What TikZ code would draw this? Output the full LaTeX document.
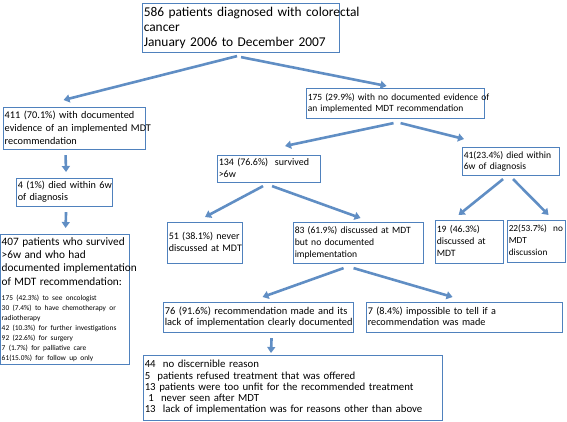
\documentclass[tikz,border=0pt]{standalone}
\usepackage{fontspec}
\setmainfont{Carlito}
\usetikzlibrary{arrows.meta}
\definecolor{boxblue}{RGB}{79,129,189}
\definecolor{arrowblue}{RGB}{96,142,196}
\newcommand{\boxlines}[1]{\begin{tabular}{@{}l@{}}#1\end{tabular}}
\tikzset{
  stage/.style={draw=boxblue, line width=1.1pt, anchor=north west, align=left, inner xsep=1.2pt, inner ysep=1.5pt, font=\fontsize{10}{11.5}\selectfont},
  bigstage/.style={stage, font=\fontsize{13.4}{15}\selectfont},
  flow/.style={-{Triangle[length=6pt,width=8pt]}, line width=2.6pt, arrowblue}
}
\begin{document}
\begin{tikzpicture}[x=1pt,y=-1pt]
  \useasboundingbox (0,0) rectangle (567,421);
  \node[bigstage, text width=194.6pt, minimum height=49pt] (top) at (142,3) {\boxlines{586 patients diagnosed with colorectal\\cancer\\January 2006 to December 2007}};
  \node[stage, text width=139.6pt, minimum height=41pt, font=\fontsize{10.3}{13}\selectfont] (n411) at (3,107) {\boxlines{411 (70.1\%) with documented\\evidence of an implemented MDT\\recommendation}};
  \node[stage, text width=175.6pt, minimum height=30pt, font=\fontsize{9.5}{11.5}\selectfont] (n175) at (306,88) {\boxlines{175 (29.9\%) with no documented evidence of\\an implemented MDT recommendation}};
  \node[stage, text width=93.6pt, minimum height=28pt, font=\fontsize{10.2}{12}\selectfont] (n4) at (16,178) {\boxlines{4 (1\%) died within 6w\\of diagnosis}};
  \node[stage, text width=126.6pt, minimum height=127pt] (n407) at (0,234) {{\fontsize{11.3}{13.3}\selectfont\boxlines{407 patients who survived\\>6w and who had\\documented implementation\\of MDT recommendation:}\par}\vspace{3pt}{\fontsize{7.4}{10}\selectfont\boxlines{175 (42.3\%) to see oncologist\\30 (7.4\%) to have chemotherapy or\\radiotherapy\\42 (10.3\%) for further investigations\\92 (22.6\%) for surgery\\7 (1.7\%) for palliative care\\61(15.0\%) for follow up only}\par}};
  \node[stage, text width=100.6pt, minimum height=27pt] (n134) at (217,155) {\boxlines{134 (76.6\%)\ \ survived\\>6w}};
  \node[stage, text width=94.6pt, minimum height=28pt, font=\fontsize{9.6}{11.5}\selectfont] (n41) at (462,147) {\boxlines{41(23.4\%) died within\\6w of diagnosis}};
  \node[stage, text width=72.6pt, minimum height=41pt] (n51) at (167,222) {\boxlines{51 (38.1\%) never\\discussed at MDT}};
  \node[stage, text width=127.6pt, minimum height=41pt, font=\fontsize{9.6}{12}\selectfont] (n83) at (293,222) {\boxlines{83 (61.9\%) discussed at MDT\\but no documented\\implementation}};
  \node[stage, text width=65.6pt, minimum height=43pt, font=\fontsize{9.7}{12}\selectfont] (n19) at (435,220) {\boxlines{19 (46.3\%)\\discussed at\\MDT}};
  \node[stage, text width=55.6pt, minimum height=42pt, font=\fontsize{9.3}{12}\selectfont] (n22) at (507,220) {\boxlines{22(53.7\%)\ \ no\\MDT\\discussion}};
  \node[stage, text width=187.6pt, minimum height=30pt, font=\fontsize{10.4}{11.5}\selectfont] (n76) at (163,302) {\boxlines{76 (91.6\%) recommendation made and its\\lack of implementation clearly documented}};
  \node[stage, text width=193.6pt, minimum height=30pt, font=\fontsize{10.2}{11.5}\selectfont] (n7) at (366,302) {\boxlines{7 (8.4\%) impossible to tell if a\\recommendation was made}};
  \node[stage, text width=296.6pt, minimum height=65pt, font=\fontsize{10.8}{11.3}\selectfont] (reasons) at (143,355) {\boxlines{44\ \ no discernible reason\\5\ \ patients refused treatment that was offered\\13 patients were too unfit for the recommended treatment\\\ 1\ \ never seen after MDT\\13\ \ lack of implementation was for reasons other than above}};
  \draw[flow] ([xshift=-4pt,yshift=-3pt]top.south) -- ([xshift=-11pt,yshift=7pt]n411.north);
  \draw[flow] ([xshift=0pt,yshift=-4pt]top.south) -- ([xshift=-9pt,yshift=2pt]n175.north);
  \draw[flow] ([xshift=-9pt,yshift=-5pt]n411.south) -- ([xshift=1.5pt,yshift=6pt]n4.north);
  \draw[flow] ([xshift=1.5pt,yshift=-5pt]n4.south) -- ([xshift=0.5pt,yshift=6pt]n407.north);
  \draw[flow] ([xshift=-2pt,yshift=-4pt]n175.south) -- ([xshift=16pt,yshift=9pt]n134.north);
  \draw[flow] ([xshift=5pt,yshift=-4pt]n175.south) -- ([xshift=2pt,yshift=8pt]n41.north west);
  \draw[flow] ([xshift=-6pt,yshift=-3pt]n134.south) -- ([yshift=5pt]n51.north);
  \draw[flow] ([xshift=3pt,yshift=-3pt]n134.south) -- ([xshift=2pt,yshift=4pt]n83.north);
  \draw[flow] ([xshift=-8pt,yshift=-3pt]n41.south) -- ([xshift=-11pt,yshift=5pt]n19.north);
  \draw[flow] ([xshift=2pt,yshift=-3pt]n41.south) -- ([xshift=12pt,yshift=5pt]n22.north);
  \draw[flow] ([xshift=-15pt,yshift=-4pt]n83.south) -- ([xshift=4pt,yshift=5pt]n76.north);
  \draw[flow] ([xshift=-5pt,yshift=-4pt]n83.south) -- ([xshift=-12pt,yshift=5pt]n7.north);
  \draw[flow] ([xshift=13pt,yshift=-5pt]n76.south) -- ([xshift=128pt,yshift=2pt]reasons.north west);
\end{tikzpicture}
\end{document}
